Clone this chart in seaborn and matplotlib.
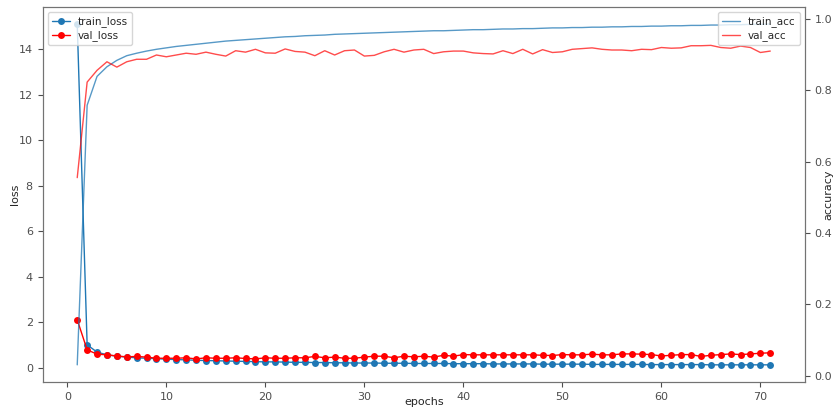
import numpy as np
import pandas as pd
import matplotlib
matplotlib.use("Agg")
import matplotlib.pyplot as plt
import seaborn as sns

# DATA
epochs = list(range(1, 72))
train_loss = [15.1, 1.0, 0.68, 0.56, 0.50, 0.46, 0.43, 0.41, 0.39, 0.37,
              0.35, 0.34, 0.32, 0.31, 0.30, 0.29, 0.28, 0.27, 0.26, 0.25,
              0.25, 0.24, 0.23, 0.23, 0.22, 0.22, 0.21, 0.21, 0.20, 0.20,
              0.20, 0.19, 0.19, 0.19, 0.18, 0.18, 0.18, 0.18, 0.17, 0.17,
              0.17, 0.17, 0.16, 0.16, 0.16, 0.16, 0.16, 0.15, 0.15, 0.15,
              0.15, 0.15, 0.14, 0.14, 0.14, 0.14, 0.14, 0.14, 0.13, 0.13,
              0.13, 0.13, 0.13, 0.13, 0.12, 0.12, 0.12, 0.12, 0.12, 0.12, 0.12]
val_loss = [2.1, 0.78, 0.59, 0.56, 0.51, 0.47, 0.49, 0.46, 0.41, 0.41,
            0.41, 0.43, 0.38, 0.43, 0.41, 0.41, 0.43, 0.40, 0.38, 0.43,
            0.41, 0.41, 0.43, 0.43, 0.49, 0.43, 0.46, 0.41, 0.41, 0.46,
            0.50, 0.50, 0.43, 0.50, 0.47, 0.50, 0.46, 0.54, 0.50, 0.57,
            0.56, 0.56, 0.56, 0.56, 0.56, 0.56, 0.56, 0.54, 0.53, 0.57,
            0.56, 0.56, 0.59, 0.56, 0.56, 0.60, 0.60, 0.59, 0.57, 0.51,
            0.54, 0.57, 0.57, 0.49, 0.54, 0.57, 0.60, 0.57, 0.60, 0.63, 0.65]
train_acc = [0.03, 0.758, 0.839, 0.866, 0.884, 0.897, 0.904, 0.910, 0.915, 0.919,
             0.923, 0.926, 0.929, 0.932, 0.935, 0.938, 0.940, 0.942, 0.944, 0.946,
             0.948, 0.950, 0.951, 0.953, 0.954, 0.955, 0.957, 0.958, 0.959, 0.960,
             0.961, 0.962, 0.963, 0.964, 0.965, 0.966, 0.967, 0.967, 0.968, 0.969,
             0.970, 0.970, 0.971, 0.972, 0.972, 0.973, 0.973, 0.974, 0.975, 0.975,
             0.976, 0.976, 0.977, 0.977, 0.978, 0.978, 0.979, 0.979, 0.980, 0.980,
             0.981, 0.981, 0.982, 0.982, 0.983, 0.983, 0.984, 0.984, 0.985, 0.985, 0.986]
val_acc = [0.555, 0.823, 0.856, 0.880, 0.865, 0.880, 0.887, 0.887, 0.899, 0.894,
           0.899, 0.904, 0.901, 0.907, 0.901, 0.896, 0.911, 0.907, 0.915, 0.905,
           0.904, 0.916, 0.909, 0.907, 0.897, 0.911, 0.899, 0.911, 0.913, 0.896,
           0.898, 0.908, 0.915, 0.907, 0.913, 0.915, 0.903, 0.908, 0.910, 0.910,
           0.905, 0.903, 0.902, 0.911, 0.903, 0.915, 0.902, 0.914, 0.906, 0.908,
           0.915, 0.917, 0.919, 0.915, 0.913, 0.913, 0.911, 0.915, 0.914, 0.920,
           0.918, 0.919, 0.925, 0.925, 0.926, 0.920, 0.918, 0.924, 0.920, 0.906, 0.910]

df = pd.DataFrame({"epoch": epochs, "train_loss": train_loss, "val_loss": val_loss,
                   "train_acc": train_acc, "val_acc": val_acc})

sns.set_style("ticks", {"axes.edgecolor": "0.45", "xtick.color": "0.3", "ytick.color": "0.3"})
plt.rcParams["font.family"] = ["DejaVu Sans"]
plt.rcParams["font.size"] = 8

fig, ax1 = plt.subplots(figsize=(8.35, 4.08), dpi=100)
fig.subplots_adjust(left=0.051, right=0.964, bottom=0.064, top=0.983)

leg_kw = dict(fontsize=7.5, handlelength=1.7, labelspacing=0.3)

# LOSS
sns.lineplot(data=df, x="epoch", y="train_loss", ax=ax1, color="#1f77b4", marker="o",
             markersize=5, markeredgewidth=0, linewidth=1, label="train_loss")
sns.lineplot(data=df, x="epoch", y="val_loss", ax=ax1, color="red", marker="o",
             markersize=5, markeredgewidth=0, linewidth=1, label="val_loss")
ax1.set_xlabel("epochs", fontsize=8)
ax1.set_ylabel("loss", fontsize=8)
ax1.xaxis.set_label_coords(0.5, -0.04)
ax1.yaxis.set_label_coords(-0.03, 0.5)
ax1.tick_params(labelsize=8)
ax1.legend(loc="upper left", **leg_kw)

# ACCURACY
ax2 = ax1.twinx()
sns.lineplot(data=df, x="epoch", y="train_acc", ax=ax2, color="#1f77b4", alpha=0.75,
             linewidth=1, label="train_acc")
sns.lineplot(data=df, x="epoch", y="val_acc", ax=ax2, color="red", alpha=0.7,
             linewidth=1, label="val_acc")
ax2.set_ylabel("accuracy", fontsize=8)
ax2.yaxis.set_label_coords(1.0245, 0.5)
ax2.tick_params(labelsize=8)
ax2.legend(loc="upper right", **leg_kw)
for s in ax2.spines.values():
    s.set_color("0.45")

fig.savefig("out.png", dpi=100)
